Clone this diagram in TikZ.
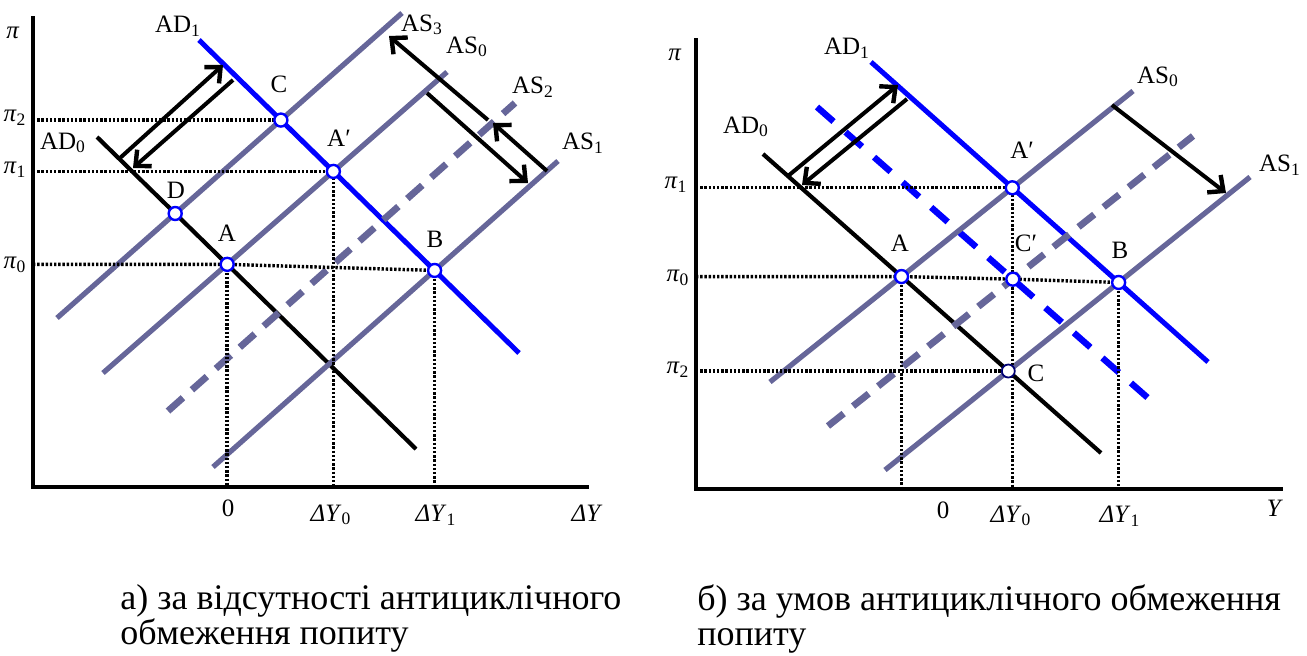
\documentclass[tikz,border=0pt]{standalone}
\usepackage{fontspec}
\setmainfont{Liberation Serif}
\usetikzlibrary{arrows.meta}
\usetikzlibrary{intersections}

\definecolor{asline}{RGB}{102,102,153}
\definecolor{adblue}{RGB}{0,0,255}

\tikzset{
  axline/.style={line width=2pt},
  adcurve/.style={line width=2.1pt, black},
  adnew/.style={line width=2.5pt, adblue},
  adshift/.style={line width=3.2pt, adblue, dash pattern=on 11pt off 8pt},
  ascurve/.style={line width=2.6pt, asline},
  asshift/.style={line width=3.4pt, asline, dash pattern=on 10pt off 6pt},
  guide/.style={line width=1.7pt, dash pattern=on 1.2pt off 0.9pt},
  move/.style={line width=2pt, -{Straight Barb[length=6pt,width=11pt,line width=2.2pt]}},
  eq/.style={circle, draw=adblue, fill=white, line width=1.2pt, minimum size=6.5pt, inner sep=0pt},
  lbl/.style={font=\fontsize{12.5}{13}\selectfont, inner sep=0pt},
  capt/.style={font=\fontsize{18}{17.5}\selectfont, align=left, anchor=north west, inner sep=0pt},
}

\begin{document}
\begin{tikzpicture}[x=0.5pt, y=-0.5pt]
    \useasboundingbox (0,0) rectangle (1307,655);

    % ---------- Left panel ----------
    % Draw axes
    \coordinate (O1) at (33,487);
    \draw [axline] (33,16) -- (O1) -- (589,487);

    % Draw AD and AS curves
    \draw [adcurve, name path=ad0L] (97,137) -- (416,449);
    \draw [adnew, name path=ad1L] (199,40) -- (519,353);
    \draw [ascurve, name path=as3L] (57,318) -- (402,13);
    \draw [ascurve, name path=as0L] (103,373) -- (447,72);
    \draw [asshift, name path=as2L] (168,411) -- (515,103);
    \draw [ascurve, name path=as1L] (213,467) -- (558,161);

    % Draw points
    \path [name intersections={of=ad0L and as0L, by=AL}];
    \path [name intersections={of=ad0L and as3L, by=DL}];
    \path [name intersections={of=ad1L and as3L, by=CL}];
    \path [name intersections={of=ad1L and as0L, by=ApL}];
    \path [name intersections={of=ad1L and as1L, by=BL}];

    % Draw guides
    \draw [guide] (O1 |- CL) -- (CL);
    \draw [guide] (O1 |- ApL) -- (ApL) -- (ApL |- O1);
    \draw [guide] (O1 |- AL) -- (AL) -- (BL);
    \draw [guide] (AL) -- (AL |- O1);
    \draw [guide] (BL) -- (BL |- O1);

    % Draw arrows
    \draw [move] (120,158) -- (223,65);
    \draw [move] (233,80) -- (133,168);
    \draw [move] (427,93) -- (528,183);
    \draw [move] (547,171) -- (493,123);
    \draw [move] (488,120) -- (389,36);

    \foreach \p in {AL,DL,CL,ApL,BL}
        \node [eq] (eq-\p) at (\p) {};

    % Draw labels
    \node [lbl] (piL)  at (13,33)  {\textit{π}};
    \node [lbl] (pi2L) at (15,118) {\textit{π}\textsubscript{2}};
    \node [lbl] (pi1L) at (15,170) {\textit{π}\textsubscript{1}};
    \node [lbl] (pi0L) at (15,265) {\textit{π}\textsubscript{0}};
    \node [lbl] (ad1L-t) at (178,26)  {AD\textsubscript{1}};
    \node [lbl] (ad0L-t) at (63,143)  {AD\textsubscript{0}};
    \node [lbl] (as3L-t) at (422,25)  {AS\textsubscript{3}};
    \node [lbl] (as0L-t) at (467,47)  {AS\textsubscript{0}};
    \node [lbl] (as2L-t) at (533,87)  {AS\textsubscript{2}};
    \node [lbl] (as1L-t) at (583,143) {AS\textsubscript{1}};
    \node [lbl] (cL-t)  at (279,84)  {C};
    \node [lbl] (dL-t)  at (176,190) {D};
    \node [lbl] (aL-t)  at (227,233) {A};
    \node [lbl] (apL-t) at (339,138) {A′};
    \node [lbl] (bL-t)  at (435,239) {B};
    \node [lbl] (zL)    at (228,508) {0};
    \node [lbl] (dy0L)  at (331,515) {\textit{ΔY}\textsubscript{0}};
    \node [lbl] (dy1L)  at (436,515) {\textit{ΔY}\textsubscript{1}};
    \node [lbl] (dyL)   at (587,513) {\textit{ΔY}};

    % ---------- Right panel ----------
    % Draw axes
    \coordinate (O2) at (696,489);
    \draw [axline] (696,38) -- (O2) -- (1283,489);

    % Draw AD and AS curves
    \draw [adcurve, name path=ad0R] (763,154) -- (1101,453);
    \draw [adnew, name path=ad1R] (871,62) -- (1208,362);
    \draw [adshift, name path=ad2R] (817,107) -- (1148,398);
    \draw [ascurve, name path=as0R] (770,382) -- (1133,91);
    \draw [asshift, name path=as2R] (828,426) -- (1193,136);
    \draw [ascurve, name path=as1R] (885,470) -- (1250,177);

    % Draw points
    \path [name intersections={of=ad0R and as0R, by=AR}];
    \path [name intersections={of=ad1R and as0R, by=ApR}];
    \path [name intersections={of=ad2R and as2R, by=CpR}];
    \path [name intersections={of=ad1R and as1R, by=BR}];
    \path [name intersections={of=ad0R and as1R, by=CR}];

    % Draw guides
    \draw [guide] (O2 |- ApR) -- (ApR) -- (ApR |- O2);
    \draw [guide] (O2 |- AR) -- (AR) -- (CpR) -- (BR);
    \draw [guide] (O2 |- CR) -- (CR);
    \draw [guide] (AR) -- (AR |- O2);
    \draw [guide] (BR) -- (BR |- O2);

    % Draw arrows
    \draw [move] (788,176) -- (898,85);
    \draw [move] (907,99) -- (802,185);
    \draw [move] (1112,105) -- (1226,193);

    \foreach \p in {AR,ApR,CpR,BR}
        \node [eq] (eq-\p) at (\p) {};
    \node [eq, draw=blue!45!black, line width=0.9pt] (eq-CR) at (CR) {};

    % Draw labels
    \node [lbl] (piR)  at (675,55)  {\textit{π}};
    \node [lbl] (pi1R) at (676,185) {\textit{π}\textsubscript{1}};
    \node [lbl] (pi0R) at (678,278) {\textit{π}\textsubscript{0}};
    \node [lbl] (pi2R) at (678,370) {\textit{π}\textsubscript{2}};
    \node [lbl] (ad1R-t) at (847,48)   {AD\textsubscript{1}};
    \node [lbl] (ad0R-t) at (746,127)  {AD\textsubscript{0}};
    \node [lbl] (as0R-t) at (1158,77)  {AS\textsubscript{0}};
    \node [lbl] (as1R-t) at (1280,165) {AS\textsubscript{1}};
    \node [lbl] (aR-t)  at (900,243)  {A};
    \node [lbl] (apR-t) at (1022,150) {A′};
    \node [lbl] (cpR-t) at (1026,243) {C′};
    \node [lbl] (bR-t)  at (1120,250) {B};
    \node [lbl] (cR-t)  at (1036,373) {C};
    \node [lbl] (zR)    at (943,510)  {0};
    \node [lbl] (dy0R)  at (1011,516) {\textit{ΔY}\textsubscript{0}};
    \node [lbl] (dy1R)  at (1120,516) {\textit{ΔY}\textsubscript{1}};
    \node [lbl] (yR)    at (1275,508) {\textit{Y}};

    % Draw captions
    \node [capt] (captL) at (120,584) {а) за відсутності антициклічного\\обмеження попиту};
    \node [capt] (captR) at (697,584) {б) за умов антициклічного обмеження\\попиту};

\end{tikzpicture}
\end{document}
